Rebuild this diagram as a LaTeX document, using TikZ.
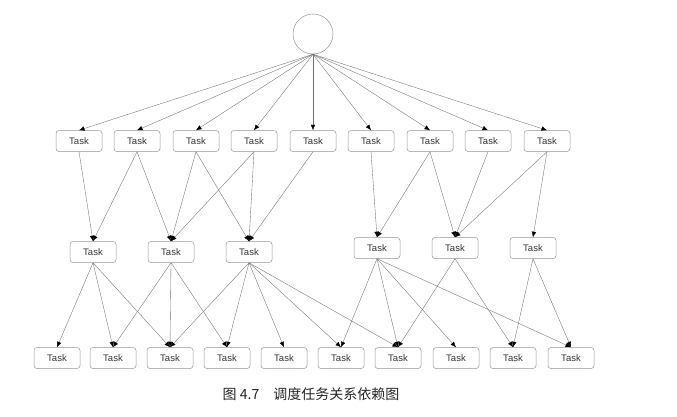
\documentclass[tikz,border=0pt]{standalone}
\usepackage{fontspec}
\setsansfont{Liberation Sans}
\newfontfamily\cjkfont{Noto Sans CJK SC}
\usetikzlibrary{arrows.meta}
\definecolor{taskline}{RGB}{150,150,150}
\definecolor{edgeline}{RGB}{110,110,110}

\begin{document}
\begin{tikzpicture}[x=1pt,y=1pt]
        \tikzset{task/.style={draw=taskline,rounded corners=3pt,line width=0.5pt,minimum width=46pt,minimum height=21pt,inner sep=0pt,font=\sffamily\fontsize{9.5}{11}\selectfont,text=black!80},
                 dep/.style={draw=edgeline,line width=0.35pt,-{Latex[length=5.5pt,width=4.5pt,color=black]}}}
        \useasboundingbox (0,0) rectangle (677,416);
        \node[draw=taskline,circle,line width=0.5pt,minimum size=40pt,inner sep=0pt] (root) at (313,382) {};
        % first level
        \node[task] (t1) at (79,275) {Task};
        \node[task] (t2) at (137,275) {Task};
        \node[task] (t3) at (196,275) {Task};
        \node[task] (t4) at (254,275) {Task};
        \node[task] (t5) at (313,275) {Task};
        \node[task] (t6) at (371,275) {Task};
        \node[task] (t7) at (430,275) {Task};
        \node[task] (t8) at (488,275) {Task};
        \node[task] (t9) at (547,275) {Task};
        % second level
        \node[task] (m1) at (93,164) {Task};
        \node[task] (m2) at (171,164) {Task};
        \node[task] (m3) at (249,164) {Task};
        \node[task] (m4) at (377,168) {Task};
        \node[task] (m5) at (455,168) {Task};
        \node[task] (m6) at (533,168) {Task};
        % third level
        \node[task] (b1) at (57,58) {Task};
        \node[task] (b2) at (113,58) {Task};
        \node[task] (b3) at (170,58) {Task};
        \node[task] (b4) at (227,58) {Task};
        \node[task] (b5) at (284,58) {Task};
        \node[task] (b6) at (341,58) {Task};
        \node[task] (b7) at (398,58) {Task};
        \node[task] (b8) at (456,58) {Task};
        \node[task] (b9) at (513,58) {Task};
        \node[task] (b10) at (571,58) {Task};
        \node[font=\cjkfont\fontsize{14}{16}\selectfont,text=black!85] (cap) at (311,22) {图 4.7\quad 调度任务关系依赖图};
        % root to first level
        \draw[dep] (root.south) -- (t1.north);
        \draw[dep] (root.south) -- (t2.north);
        \draw[dep] (root.south) -- (t3.north);
        \draw[dep] (root.south) -- (t4.north);
        \draw[dep] (root.south) -- (t5.north);
        \draw[dep] (root.south) -- (t6.north);
        \draw[dep] (root.south) -- (t7.north);
        \draw[dep] (root.south) -- (t8.north);
        \draw[dep] (root.south) -- (t9.north);
        % first to second level
        \draw[dep] (t1.south) -- (m1.north);
        \draw[dep] (t2.south) -- (m1.north);
        \draw[dep] (t2.south) -- (m2.north);
        \draw[dep] (t3.south) -- (m2.north);
        \draw[dep] (t3.south) -- (m3.north);
        \draw[dep] (t4.south) -- (m2.north);
        \draw[dep] (t4.south) -- (m3.north);
        \draw[dep] (t5.south) -- (m3.north);
        \draw[dep] (t6.south) -- (m4.north);
        \draw[dep] (t7.south) -- (m4.north);
        \draw[dep] (t7.south) -- (m5.north);
        \draw[dep] (t8.south) -- (m5.north);
        \draw[dep] (t9.south) -- (m5.north);
        \draw[dep] (t9.south) -- (m6.north);
        % second to third level
        \draw[dep] (m1.south) -- (b1.north);
        \draw[dep] (m1.south) -- (b2.north);
        \draw[dep] (m1.south) -- (b3.north);
        \draw[dep] (m2.south) -- (b2.north);
        \draw[dep] (m2.south) -- (b3.north);
        \draw[dep] (m2.south) -- (b4.north);
        \draw[dep] (m3.south) -- (b3.north);
        \draw[dep] (m3.south) -- (b4.north);
        \draw[dep] (m3.south) -- (b5.north);
        \draw[dep] (m3.south) -- (b6.north);
        \draw[dep] (m3.south) -- (b7.north);
        \draw[dep] (m4.south) -- (b6.north);
        \draw[dep] (m4.south) -- (b7.north);
        \draw[dep] (m4.south) -- (b8.north);
        \draw[dep] (m4.south) -- (b10.north);
        \draw[dep] (m5.south) -- (b7.north);
        \draw[dep] (m5.south) -- (b9.north);
        \draw[dep] (m6.south) -- (b9.north);
        \draw[dep] (m6.south) -- (b10.north);
      \end{tikzpicture}
\end{document}
